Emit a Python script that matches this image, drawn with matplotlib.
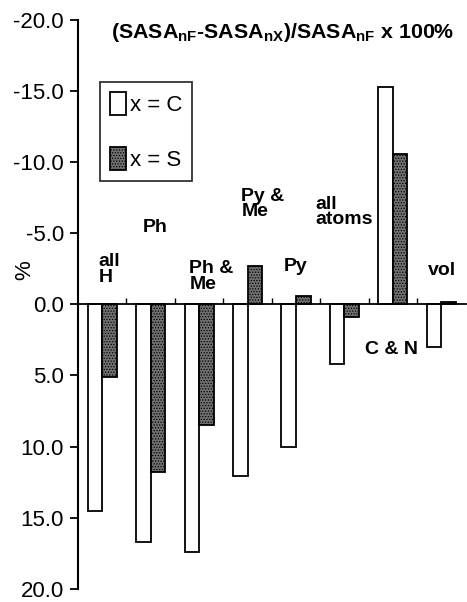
import numpy as np
import matplotlib
matplotlib.use('Agg')
import matplotlib.pyplot as plt

plt.rcParams['font.family'] = ['Liberation Sans', 'DejaVu Sans']
plt.rcParams['hatch.linewidth'] = 0.6

# percent change in SASA, nF vs nX
groups = ['all\nH', 'Ph', 'Ph &\nMe', 'Py &\nMe', 'Py', 'all\natoms', 'C & N', 'vol']
vals_c = [14.5, 16.7, 17.4, 12.1, 10.0, 4.2, -15.3, 3.0]
vals_s = [5.1, 11.8, 8.5, -2.7, -0.6, 0.9, -10.6, -0.15]
# where each group name sits (x in category units, y in %)
label_x = [0.42, 1.33, 2.30, 3.37, 4.25, 4.90, 5.93, 7.23]
label_y = [-2.45, -5.4, -1.95, -7.05, -2.65, -6.5, 3.2, -2.35]

fig = plt.figure(figsize=(4.67, 6.02), dpi=100)
ax = fig.add_axes([0.167, 0.022, 0.83, 0.945])

x = np.arange(len(groups))
w = 0.3
ax.bar(x + 0.35, vals_c, w, color='white', edgecolor='black', linewidth=1.3, label='x = C')
ax.bar(x + 0.65, vals_s, w, color='#707070', edgecolor='black', linewidth=1.3,
       hatch='......', label='x = S')

for name, lx, ly in zip(groups, label_x, label_y):
    ax.text(lx, ly, name, fontsize=14, fontweight='bold', ha='left', va='center',
            linespacing=0.9)

ax.set_xlim(0, 8)
ax.set_ylim(20, -20)
ax.set_yticks(np.arange(-20, 21, 5))
ax.set_yticklabels(['%.1f' % v for v in np.arange(-20, 21, 5)], fontsize=16)
ax.tick_params(axis='y', direction='out', length=6, width=1.3, pad=4)
ax.set_xticks(np.arange(1, 8))
ax.set_xticklabels([])
ax.tick_params(axis='x', direction='in', length=4, width=1)

ax.spines['top'].set_visible(False)
ax.spines['right'].set_visible(False)
ax.spines['bottom'].set_position(('data', 0))
ax.spines['left'].set_linewidth(1.5)
ax.spines['bottom'].set_linewidth(1.3)

ax.set_ylabel('%', fontsize=16)
ax.yaxis.set_label_coords(-0.11, 0.56)

ax.text(0.68, -19.1, r'(SASA$_{\mathregular{nF}}$-SASA$_{\mathregular{nX}}$)/SASA$_{\mathregular{nF}}$ x 100%',
        fontsize=15.4, fontweight='bold', ha='left', va='center')

leg = ax.legend(loc='upper left', bbox_to_anchor=(0.057, 0.89), fontsize=16,
                frameon=True, fancybox=False, edgecolor='black',
                handlelength=0.7, handleheight=1.2, handletextpad=0.2,
                labelspacing=1.4, borderpad=0.45, borderaxespad=0)
leg.get_frame().set_linewidth(1.3)

fig.savefig('out.png', dpi=100)
